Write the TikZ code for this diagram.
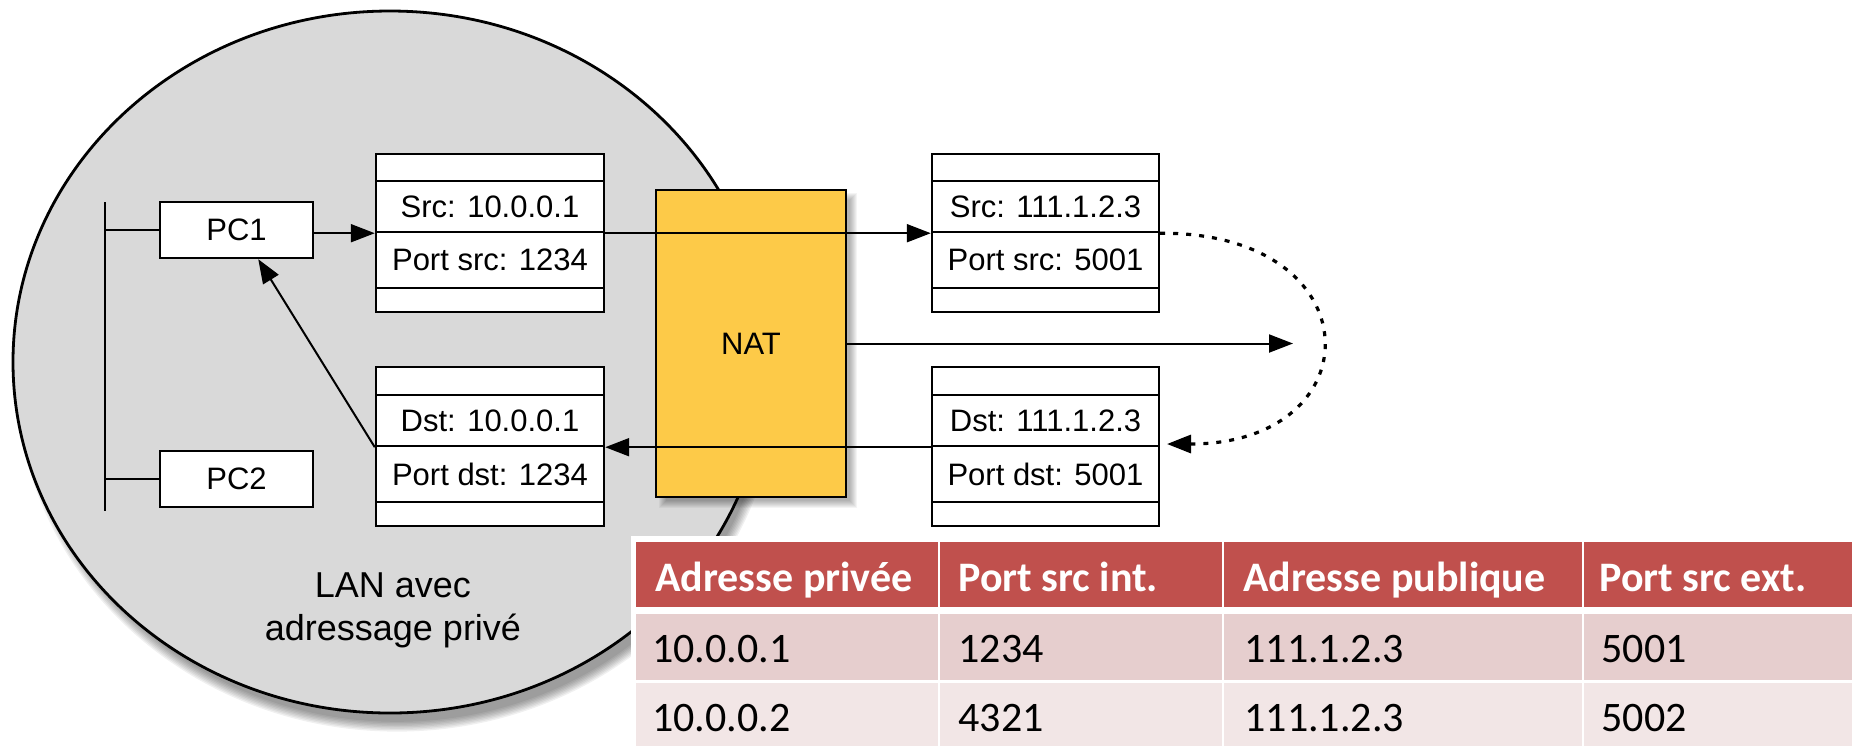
\documentclass[tikz,border=0pt]{standalone}
\usepackage{fontspec}
\setmainfont{Liberation Sans}
\newfontfamily\tablefont{Carlito}
\usetikzlibrary{arrows.meta,calc}
\definecolor{lan}{RGB}{217,217,217}
\definecolor{natc}{RGB}{253,202,72}
\definecolor{hdr}{RGB}{192,80,77}
\definecolor{rowa}{RGB}{230,206,206}
\definecolor{rowb}{RGB}{242,230,230}
\begin{document}
\begin{tikzpicture}[x=0.5pt,y=-0.5pt,
  pc/.style={draw, line width=1.2pt, fill=white, minimum width=76.5pt, minimum height=28pt, inner sep=0pt, font=\fontsize{15.5}{18}\selectfont},
  pktrow/.style={draw, line width=1.2pt, fill=white, minimum width=114pt, inner sep=0pt, font=\fontsize{15.5}{18}\selectfont},
  arr/.style={line width=1pt, -{Triangle[length=12pt,width=9pt]}},
  dotline/.style={line width=1.6pt, line cap=butt, dash pattern=on 2.5pt off 4pt, -{Triangle[length=12pt,width=9pt]}},
  hd/.style={anchor=base west, inner sep=0pt, text=white, font=\tablefont\bfseries\fontsize{21}{25}\selectfont},
  cell/.style={anchor=base west, inner sep=0pt, text=black, font=\tablefont\fontsize{21}{25}\selectfont},
]
\useasboundingbox (0,0) rectangle (1852,746);

% LAN ellipse with soft shadow
\foreach \k in {1,...,8}
  \fill[black, opacity=0.06] (397,377) ellipse [x radius={191pt-\k*0.7pt}, y radius={178pt-\k*0.7pt}];
\filldraw[fill=lan, draw=black, line width=1.4pt] (390,362) ellipse [x radius=188.5pt, y radius=175.5pt];

\node[font=\fontsize{18}{21.5}\selectfont, align=center, inner sep=0pt] (lan) at (393,610) {LAN avec\\adressage privé};

% bus and PCs
\coordinate (bustop) at (105,202);
\coordinate (busbot) at (105,511);
\draw[line width=1.2pt] (bustop) -- (busbot);
\node[pc] (pc1) at (236.5,230) {PC1};
\node[pc] (pc2) at (236.5,479) {PC2};
\draw[line width=1.2pt] (bustop |- pc1.west) -- (pc1.west);
\draw[line width=1.2pt] (bustop |- pc2.west) -- (pc2.west);

% packet top-left
\node[pktrow, minimum height=13.5pt] (tl0) at (490,167.5) {};
\node[pktrow, minimum height=25.5pt] (tl1) at (490,206.5) {Src: 10.0.0.1};
\node[pktrow, minimum height=28pt] (tl2) at (490,260) {Port src: 1234};
\node[pktrow, minimum height=12pt] (tl3) at (490,300) {};
% packet bottom-left
\node[pktrow, minimum height=14pt] (bl0) at (490,381) {};
\node[pktrow, minimum height=25.5pt] (bl1) at (490,420.5) {Dst: 10.0.0.1};
\node[pktrow, minimum height=28pt] (bl2) at (490,474) {Port dst: 1234};
\node[pktrow, minimum height=12pt] (bl3) at (490,514) {};
% packet top-right
\node[pktrow, minimum width=113.5pt, minimum height=13.5pt] (tr0) at (1045.5,167.5) {};
\node[pktrow, minimum width=113.5pt, minimum height=25.5pt] (tr1) at (1045.5,206.5) {Src: 111.1.2.3};
\node[pktrow, minimum width=113.5pt, minimum height=28pt] (tr2) at (1045.5,260) {Port src: 5001};
\node[pktrow, minimum width=113.5pt, minimum height=12pt] (tr3) at (1045.5,300) {};
% packet bottom-right
\node[pktrow, minimum width=113.5pt, minimum height=14pt] (br0) at (1045.5,381) {};
\node[pktrow, minimum width=113.5pt, minimum height=25.5pt] (br1) at (1045.5,420.5) {Dst: 111.1.2.3};
\node[pktrow, minimum width=113.5pt, minimum height=28pt] (br2) at (1045.5,474) {Port dst: 5001};
\node[pktrow, minimum width=113.5pt, minimum height=12pt] (br3) at (1045.5,514) {};

% NAT with soft shadow
\foreach \s in {-3,...,4}
  \fill[black, opacity=0.045] ({663-\s},{197-\s}) rectangle ({853+\s},{504+\s});
\node[draw, line width=1.2pt, fill=natc, minimum width=95pt, minimum height=153.5pt, inner sep=0pt, font=\fontsize{15.5}{18}\selectfont] (nat) at (751,343.5) {NAT};

% connectors
\draw[arr] (pc1.east |- tl1.south west) -- (tl1.south west);
\draw[arr] (tl1.south east) -- (tr1.south west);
\coordinate (out) at (1293,343.5);
\draw[arr] (nat.east) -- (out);
\draw[arr] (br1.south west) -- (bl1.south east);
\draw[arr] (bl1.south west) -- ($(pc1.south west)!0.64!(pc1.south east)$);
\coordinate (ret) at (1167,444);
\draw[dotline] (tr1.south east) .. controls (1375,232) and (1375,444) .. (ret);

% table
\fill[white] (631,536) rectangle (1852,746);
\fill[hdr] (636,542) rectangle (938,607);
\fill[hdr] (940,542) rectangle (1222,607);
\fill[hdr] (1224,542) rectangle (1582,607);
\fill[hdr] (1584,542) rectangle (1852,607);
\fill[rowa] (636,614) rectangle (938,680);
\fill[rowa] (940,614) rectangle (1222,680);
\fill[rowa] (1224,614) rectangle (1582,680);
\fill[rowa] (1584,614) rectangle (1852,680);
\fill[rowb] (636,683) rectangle (938,746);
\fill[rowb] (940,683) rectangle (1222,746);
\fill[rowb] (1224,683) rectangle (1582,746);
\fill[rowb] (1584,683) rectangle (1852,746);

\node[hd] (h1) at (655,591) {Adresse privée};
\node[hd] (h2) at (958,591) {Port src int.};
\node[hd] (h3) at (1243,591) {Adresse publique};
\node[hd] (h4) at (1599,591) {Port src ext.};
\node[cell] (a1) at (652,662) {10.0.0.1};
\node[cell] (a2) at (958,662) {1234};
\node[cell] (a3) at (1244,662) {111.1.2.3};
\node[cell] (a4) at (1601,662) {5001};
\node[cell] (b1) at (652,731) {10.0.0.2};
\node[cell] (b2) at (958,731) {4321};
\node[cell] (b3) at (1244,731) {111.1.2.3};
\node[cell] (b4) at (1601,731) {5002};
\end{tikzpicture}
\end{document}
